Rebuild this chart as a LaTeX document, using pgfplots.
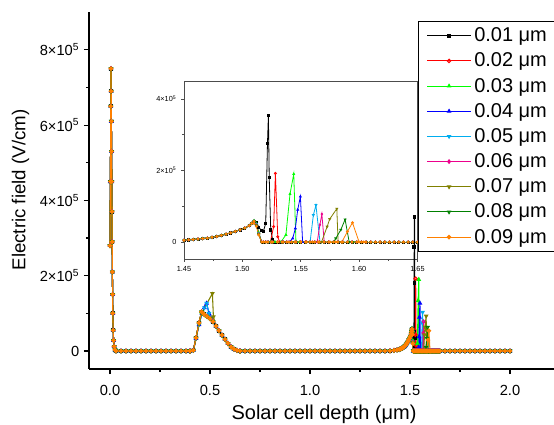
\documentclass[border=0pt]{standalone}
\usepackage{fontspec}
\setmainfont{Liberation Sans}
\usepackage{pgfplots}
\usepackage{pgfplotstable}
\pgfplotsset{compat=1.18}

\definecolor{cgreen}{RGB}{0,255,0}
\definecolor{colive}{RGB}{128,128,0}
\definecolor{cdgreen}{RGB}{0,128,0}
\definecolor{corange}{RGB}{255,128,0}

% common parts of all profiles
\pgfplotstableread{
x y
0 280000
0.002 450000
0.004 650000
0.005 750000
0.006 690000
0.007 610000
0.008 530000
0.009 450000
0.010 370000
0.011 290000
0.012 210000
0.013 150000
0.014 100000
0.016 55000
0.018 28000
0.021 12000
0.025 3000
0.030 0
0.055 0
0.080 0
0.105 0
0.130 0
0.155 0
0.180 0
0.205 0
0.230 0
0.255 0
0.280 0
0.305 0
0.330 0
0.355 0
0.380 0
0.400 0
}\segA

\pgfplotstableread{
x y
0.400 0
0.417 2000
0.430 35000
0.445 75000
0.458 104000
0.470 98000
0.485 92000
0.500 86000
0.515 78000
0.530 66000
0.545 54000
0.560 42000
0.575 31000
0.590 20000
0.605 11000
0.620 5000
0.635 1500
0.650 0
}\bumpA

\pgfplotstableread{
x y
0.400 0
0.417 2000
0.430 33000
0.445 70000
0.460 100000
0.472 115000
0.483 127000
0.495 100000
0.505 88000
0.515 78000
0.530 66000
0.545 54000
0.560 42000
0.575 31000
0.590 20000
0.605 11000
0.620 5000
0.635 1500
0.650 0
}\bumpB

\pgfplotstableread{
x y
0.400 0
0.417 2000
0.430 34000
0.445 72000
0.458 100000
0.512 153000
0.517 91000
0.530 66000
0.545 54000
0.560 42000
0.575 31000
0.590 20000
0.605 11000
0.620 5000
0.635 1500
0.650 0
}\bumpC

\pgfplotstableread{
x y
0.650 0
0.675 0
0.700 0
0.725 0
0.750 0
0.775 0
0.800 0
0.825 0
0.850 0
0.875 0
0.900 0
0.925 0
0.950 0
0.975 0
1.000 0
1.025 0
1.050 0
1.075 0
1.100 0
1.125 0
1.150 0
1.175 0
1.200 0
1.225 0
1.250 0
1.275 0
1.300 0
1.325 0
1.350 0
1.375 0
1.400 500
1.420 1500
1.435 2800
1.446 4200
1.450 5000
1.454 6000
1.458 7000
1.462 8200
1.466 9500
1.470 11000
1.474 13000
1.478 15500
1.482 18500
1.486 22000
1.490 25500
1.494 29500
1.498 34000
1.502 39000
1.506 46000
1.508 52000
1.510 58000
}\segB

\pgfplotstableread{
x y
1.518 0
1.522 0
1.526 0
1.530 0
1.534 0
1.538 0
1.542 0
1.546 0
1.550 0
1.554 0
1.558 0
1.562 0
1.566 0
1.570 0
1.574 0
1.578 0
1.582 0
1.586 0
1.590 0
1.594 0
1.598 0
1.602 0
1.606 0
1.610 0
1.614 0
1.618 0
1.622 0
1.626 0
1.630 0
1.634 0
1.638 0
1.642 0
1.646 0
1.650 0
1.675 0
1.700 0
1.725 0
1.750 0
1.775 0
1.800 0
1.825 0
1.850 0
1.875 0
1.900 0
1.925 0
1.950 0
1.975 0
2.000 0
}\zeros

% peaks near the back interface, one per thickness
\pgfplotstableread{
x y
1.510 58000
1.512 55000
1.514 42000
1.516 33000
1.518 30000
1.520 52000
1.5215 276000
1.5223 355000
1.5230 180000
1.5243 34000
1.5258 8000
1.528 0
1.532 0
}\spA

\pgfplotstableread{
x y
1.510 58000
1.512 50000
1.514 25000
1.5164 0
1.520 0
1.524 0
1.5268 43000
1.5283 192000
1.5303 15000
1.5318 0
1.535 0
}\spB

\pgfplotstableread{
x y
1.510 60000
1.512 52000
1.514 27000
1.5165 0
1.520 0
1.524 0
1.528 0
1.533 0
1.5373 20000
1.5408 134000
1.5440 190000
1.5459 0
1.549 0
}\spC

\pgfplotstableread{
x y
1.510 57000
1.512 48000
1.514 22000
1.5165 0
1.520 0
1.525 0
1.530 0
1.535 0
1.540 0
1.5431 10000
1.5454 38000
1.5474 90000
1.5497 127000
1.5516 0
1.555 0
}\spD

\pgfplotstableread{
x y
1.510 58000
1.512 50000
1.514 24000
1.5165 0
1.520 0
1.525 0
1.530 0
1.535 0
1.540 0
1.545 0
1.550 0
1.555 0
1.558 0
1.5608 75000
1.5630 103000
1.5665 0
1.570 0
}\spE

\pgfplotstableread{
x y
1.510 57000
1.512 48000
1.514 23000
1.5165 0
1.520 0
1.525 0
1.530 0
1.535 0
1.540 0
1.545 0
1.550 0
1.555 0
1.560 0
1.5641 0
1.5664 48000
1.5681 78000
1.5701 0
1.574 0
}\spF

\pgfplotstableread{
x y
1.510 56000
1.512 47000
1.514 22000
1.5165 0
1.520 0
1.525 0
1.530 0
1.535 0
1.540 0
1.545 0
1.550 0
1.555 0
1.560 0
1.5678 0
1.5726 43000
1.5748 64000
1.5809 93000
1.5820 0
1.585 0
}\spG

\pgfplotstableread{
x y
1.510 55000
1.512 46000
1.514 21000
1.5165 0
1.520 0
1.525 0
1.530 0
1.535 0
1.540 0
1.545 0
1.550 0
1.555 0
1.560 0
1.565 0
1.570 0
1.578 0
1.580 10000
1.5843 34000
1.5880 63000
1.5915 0
1.595 0
}\spH

\pgfplotstableread{
x y
1.510 52000
1.512 44000
1.514 20000
1.5165 0
1.520 0
1.525 0
1.530 0
1.535 0
1.540 0
1.545 0
1.550 0
1.555 0
1.560 0
1.565 0
1.570 0
1.575 0
1.580 0
1.5852 0
1.5900 29000
1.5943 54000
1.6000 0
1.604 0
}\spI

\pgfplotsset{
  ser/.style={line width=0.8pt, mark size=1.3pt, mark options={solid}},
  s1/.style={ser, black, mark=square*, mark size=1.0pt},
  s2/.style={ser, red, mark=o},
  s3/.style={ser, cgreen, mark=triangle*},
  s4/.style={ser, blue, mark=triangle*},
  s5/.style={ser, cyan, mark=triangle, mark options={solid,rotate=180}},
  s6/.style={ser, magenta, mark=diamond},
  s7/.style={ser, colive, mark=triangle*, mark options={solid,rotate=180}},
  s8/.style={ser, cdgreen, mark=triangle, mark options={solid,rotate=180}},
  s9/.style={ser, corange, mark=*},
}

\newcommand\mainseries[4]{%
  \addplot[#1] table {\segA}; \addlegendentry{#4}
  \addplot[#1, forget plot] table {#2};
  \addplot[#1, forget plot] table {\segB};
  \addplot[#1, forget plot] table {#3};
  \addplot[#1, forget plot] table {\zeros};
}
\newcommand\insetseries[2]{%
  \addplot[#1, mark size=0.8pt, line width=0.6pt] table {\segB};
  \addplot[#1, mark size=0.8pt, line width=0.6pt] table {#2};
  \addplot[#1, mark size=0.8pt, line width=0.6pt] table {\zeros};
}

\begin{document}
\begin{tikzpicture}

% inset (zoom on 1.45-1.65 um)
\begin{axis}[
  at={(138pt,124.5pt)}, anchor=south west,
  scale only axis, width=175.1pt, height=133.5pt,
  xmin=1.45, xmax=1.65, ymin=-47500, ymax=450000,
  axis background/.style={fill=white},
  axis line style={gray!60!black, line width=0.6pt},
  xtick={1.45,1.5,1.55,1.6,1.65},
  xticklabels={1.45,1.50,1.55,1.60,1.65},
  ytick={0,200000,400000},
  yticklabels={0,{2×10\textsuperscript{5}},{4×10\textsuperscript{5}}},
  scaled y ticks=false, scaled x ticks=false,
  minor x tick num=1, minor y tick num=1,
  xtick pos=lower, ytick pos=left,
  tick align=outside,
  major tick length=2.2pt, minor tick length=1.4pt,
  tick style={gray!60!black, line width=0.5pt},
  ticklabel style={font=\fontsize{5.5}{6}\selectfont},
]
\insetseries{s1}{\spA}
\insetseries{s2}{\spB}
\insetseries{s3}{\spC}
\insetseries{s4}{\spD}
\insetseries{s5}{\spE}
\insetseries{s6}{\spF}
\insetseries{s7}{\spG}
\insetseries{s8}{\spH}
\insetseries{s9}{\spI}
\end{axis}

% main plot
\begin{axis}[
  at={(66.75pt,42pt)}, anchor=south west,
  scale only axis, width=353.25pt, height=267.6pt,
  xmin=-0.105, xmax=2.25, ymin=-47800, ymax=900000,
  axis lines*=left,
  axis line style={-, line width=1pt},
  xtick={0,0.5,1,1.5,2},
  xticklabels={0.0,0.5,1.0,1.5,2.0},
  ytick={0,200000,400000,600000,800000},
  yticklabels={0,{2×10\textsuperscript{5}},{4×10\textsuperscript{5}},{6×10\textsuperscript{5}},{8×10\textsuperscript{5}}},
  scaled y ticks=false, scaled x ticks=false,
  minor x tick num=1, minor y tick num=1,
  tick align=outside,
  major tick length=3.8pt, minor tick length=2.3pt,
  tick style={black, line width=0.9pt},
  ticklabel style={font=\fontsize{11}{12}\selectfont},
  xticklabel style={yshift=-5pt},
  xlabel={Solar cell depth (μm)},
  ylabel={Electric field (V/cm)},
  xlabel style={font=\fontsize{15}{17}\selectfont, at={(axis description cs:0.499,-0.141)}, anchor=base},
  ylabel style={font=\fontsize{14}{16}\selectfont, at={(axis description cs:-0.1454,0.5017)}, anchor=center},
  legend cell align=left,
  legend image code/.code={\draw[mark repeat=2, mark phase=2] plot coordinates {(0cm,0cm) (0.58cm,0cm) (1.16cm,0cm)};},
  legend style={at={(0.6985,0.9765)}, anchor=north west, draw=black, line width=0.8pt,
    fill=white, font=\fontsize{15}{17}\selectfont, inner xsep=6pt, inner ysep=3pt,
    row sep=2.9pt},
]
\mainseries{s1}{\bumpA}{\spA}{0.01 μm}
\mainseries{s2}{\bumpA}{\spB}{0.02 μm}
\mainseries{s3}{\bumpA}{\spC}{0.03 μm}
\mainseries{s4}{\bumpB}{\spD}{0.04 μm}
\mainseries{s5}{\bumpB}{\spE}{0.05 μm}
\mainseries{s6}{\bumpA}{\spF}{0.06 μm}
\mainseries{s7}{\bumpC}{\spG}{0.07 μm}
\mainseries{s8}{\bumpA}{\spH}{0.08 μm}
\mainseries{s9}{\bumpA}{\spI}{0.09 μm}
\end{axis}

\pgfresetboundingbox
\useasboundingbox (0pt,0pt) rectangle (415.5pt,318.75pt);
\end{tikzpicture}
\end{document}
